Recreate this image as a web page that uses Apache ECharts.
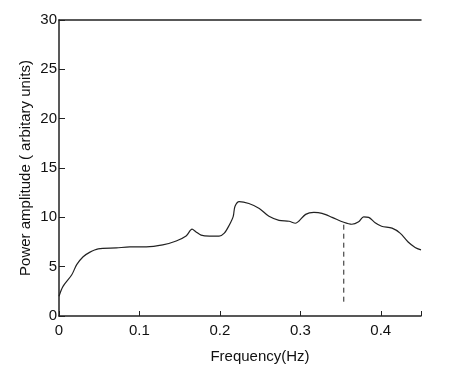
<!DOCTYPE html>
<html>
<head>
<meta charset="utf-8">
<script src="https://cdn.jsdelivr.net/npm/echarts@6/dist/echarts.min.js"></script>
<style>html,body{margin:0;padding:0;background:#fff;}#c{width:450px;height:380px;}</style>
</head>
<body>
<div id="c"></div>
<script>
var freq = [0, 0.005, 0.0157, 0.022, 0.030, 0.038, 0.0487, 0.0714, 0.088, 0.1085, 0.129, 0.1457, 0.158, 0.1654, 0.170, 0.1766, 0.187, 0.199, 0.2055, 0.2116, 0.2166, 0.2187, 0.224, 0.236, 0.249, 0.261, 0.2735, 0.286, 0.294, 0.298, 0.3066, 0.3168, 0.327, 0.3395, 0.354, 0.364, 0.3725, 0.3787, 0.385, 0.393, 0.401, 0.414, 0.424, 0.434, 0.4427, 0.450];
var power = [2.0, 3.0, 4.15, 5.2, 6.0, 6.45, 6.8, 6.9, 7.0, 7.0, 7.2, 7.6, 8.1, 8.8, 8.55, 8.2, 8.1, 8.1, 8.4, 9.2, 10.1, 11.1, 11.6, 11.4, 10.9, 10.1, 9.7, 9.6, 9.4, 9.6, 10.3, 10.5, 10.4, 10.0, 9.5, 9.3, 9.55, 10.05, 10.0, 9.45, 9.1, 8.9, 8.4, 7.5, 6.95, 6.7];
var markerX = [0.354, 0.354];
var markerY = [1.45, 9.5];
var xTicks = [0, 0.1, 0.2, 0.3, 0.4];
var yTicks = [0, 5, 10, 15, 20, 25, 30];

var font = 'Liberation Sans';
var chart = echarts.init(document.getElementById('c'), null, {renderer: 'canvas'});
chart.setOption({
  backgroundColor: '#fff',
  animation: false,
  grid: {left: 59, right: 29, top: 20, bottom: 64},
  xAxis: [{
    type: 'value', min: 0, max: 0.45, interval: 0.1,
    name: 'Frequency(Hz)', nameLocation: 'middle', nameGap: 33,
    nameTextStyle: {fontFamily: font, fontSize: 15, color: '#111', padding: [0, 0, 0, 40]},
    axisLine: {show: true, lineStyle: {color: '#222', width: 1.5}},
    axisTick: {show: true, inside: true, length: 5, lineStyle: {color: '#222'}},
    axisLabel: {fontFamily: font, fontSize: 15, color: '#111', margin: 7,
      formatter: function (v) { return xTicks.indexOf(Math.round(v * 10) / 10) >= 0 ? String(Math.round(v * 10) / 10) : ''; }},
    splitLine: {show: false}
  }, {
    type: 'value', position: 'top', min: 0, max: 0.45,
    axisLine: {show: true, lineStyle: {color: '#222', width: 1.5}},
    axisTick: {show: false}, axisLabel: {show: false}, splitLine: {show: false}
  }],
  yAxis: {
    type: 'value', min: 0, max: 30, interval: 5,
    name: 'Power amplitude ( arbitary units)', nameLocation: 'middle', nameGap: 26,
    nameMoveOverlap: false,
    nameTextStyle: {fontFamily: font, fontSize: 15, color: '#111'},
    axisLine: {show: true, lineStyle: {color: '#222', width: 1.5}},
    axisTick: {show: true, inside: true, length: 6, lineStyle: {color: '#222'}},
    axisLabel: {fontFamily: font, fontSize: 15, color: '#111', margin: 2,
      formatter: function (v) { return yTicks.indexOf(v) >= 0 ? String(v) : ''; }},
    splitLine: {show: false}
  },
  series: [{
    type: 'line', smooth: 0.3, showSymbol: false,
    data: freq.map(function (f, i) { return [f, power[i]]; }),
    lineStyle: {color: '#222', width: 1.2}
  }, {
    type: 'line', showSymbol: false,
    data: markerX.map(function (f, i) { return [f, markerY[i]]; }),
    lineStyle: {color: '#222', width: 1, type: [5, 4]}
  }]
});
</script>
</body>
</html>
